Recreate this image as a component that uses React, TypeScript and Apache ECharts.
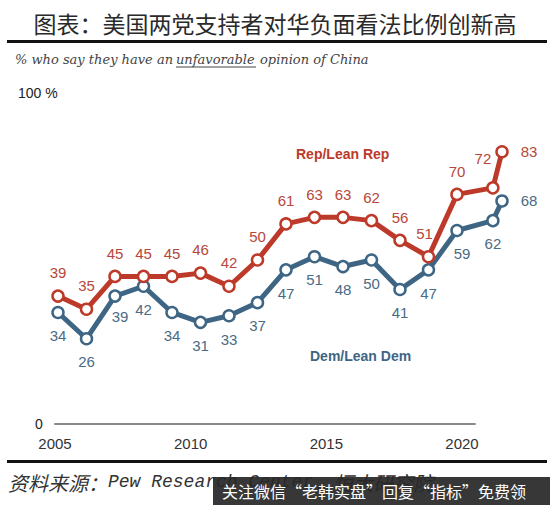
import React, { useEffect, useRef } from "react";
import * as echarts from "echarts";

// survey times (2020 has two waves)
const surveyTimes = [2005, 2006, 2007, 2008, 2009, 2010, 2011, 2012, 2013, 2014, 2015, 2016, 2017, 2018, 2019, 2020.26, 2020.58];
const repValues = [39, 35, 45, 45, 45, 46, 42, 50, 61, 63, 63, 62, 56, 51, 70, 72, 83];
const demValues = [34, 26, 39, 42, 34, 31, 33, 37, 47, 51, 48, 50, 41, 47, 59, 62, 68];
const xTickLabels = [2005, 2010, 2015, 2020];
const yTickLabels = [0, 100];

const RED = "#bd3a2a";
const RED_TXT = "#b7473a";
const BLUE = "#3e6684";
const BLUE_TXT = "#4a6b84";

const repLabelCfg: Record<number, any> = {
  13: { position: "top", offset: [-4, 0] },
  15: { position: "top", offset: [-10, -6] },
  16: { position: "right", distance: 12 },
};
const demLabelCfg: Record<number, any> = {
  2: { position: "bottom", offset: [5, -3] },
  14: { position: "bottom", offset: [5, 0] },
  16: { position: "right", distance: 12 },
};

export default function App() {
  const ref = useRef<HTMLDivElement>(null);
  useEffect(() => {
    const chart = echarts.init(ref.current!, null, { renderer: "svg" });
    const mk = (vals: number[], cfg: Record<number, any>, txt: string) =>
      vals.map((v, i) => ({
        value: [surveyTimes[i], v],
        label: cfg[i] ? { ...cfg[i], color: txt } : undefined,
      }));
    const labelFont = { fontFamily: "Liberation Sans", fontSize: 15 };
    const option: any = {
      animation: false,
      backgroundColor: "#fff",
      grid: [
        { left: 58, right: 48, top: 96, bottom: 81 },
        { left: 55, right: 75, top: 96, bottom: 81 },
      ],
      xAxis: [
        {
          type: "value", gridIndex: 0, min: 2005, max: 2020.58,
          axisLine: { show: false }, axisTick: { show: false },
          axisLabel: { show: false }, splitLine: { show: false },
        },
        {
          type: "value", gridIndex: 1, min: 2005, max: 2020.48, interval: 5,
          axisLine: { show: true, onZero: false, lineStyle: { color: "#8a8a8a", width: 2 } },
          axisTick: { show: false }, splitLine: { show: false },
          axisLabel: {
            show: true, margin: 12, color: "#333", fontSize: 15, fontFamily: "Liberation Sans",
            showMaxLabel: false,
            formatter: (v: number) => (xTickLabels.includes(v) ? String(v) : ""),
          },
        },
      ],
      yAxis: [
        {
          type: "value", gridIndex: 0, min: 0, max: 100, interval: 100,
          axisLine: { show: false }, axisTick: { show: false }, splitLine: { show: false },
          axisLabel: {
            show: true, align: "left", margin: 40,
            formatter: (v: number) => (yTickLabels.includes(v) ? (v === 100 ? "{a|100 %}" : "{b|" + v + "}") : ""),
            rich: {
              a: { fontSize: 14, color: "#222", fontFamily: "Liberation Sans", padding: [-6, 0, 0, 0] },
              b: { fontSize: 14, color: "#222", fontFamily: "Liberation Sans", padding: [0, 0, 0, 17] },
            },
          },
        },
        {
          type: "value", gridIndex: 1, min: 0, max: 100,
          axisLine: { show: false }, axisTick: { show: false }, axisLabel: { show: false }, splitLine: { show: false },
        },
      ],
      series: [
        {
          type: "line", name: "Dem/Lean Dem", xAxisIndex: 0, yAxisIndex: 0, clip: false,
          data: mk(demValues, demLabelCfg, BLUE_TXT),
          lineStyle: { color: BLUE, width: 5 },
          symbol: "circle", symbolSize: 11,
          itemStyle: { color: "#fff", borderColor: BLUE, borderWidth: 2.5 },
          label: { show: true, position: "bottom", distance: 9, color: BLUE_TXT, ...labelFont,
            formatter: (p: any) => String(p.value[1]) },
          z: 3,
        },
        {
          type: "line", name: "Rep/Lean Rep", xAxisIndex: 0, yAxisIndex: 0, clip: false,
          data: mk(repValues, repLabelCfg, RED_TXT),
          lineStyle: { color: RED, width: 5 },
          symbol: "circle", symbolSize: 11,
          itemStyle: { color: "#fff", borderColor: RED, borderWidth: 2.5 },
          label: { show: true, position: "top", distance: 9, color: RED_TXT, ...labelFont,
            formatter: (p: any) => String(p.value[1]) },
          z: 4,
        },
      ],
      graphic: [
        { type: "text", left: "center", top: 11, style: { text: "图表：美国两党支持者对华负面看法比例创新高", fontSize: 23, fontFamily: "Noto Sans CJK SC", fill: "#2a2a2a" } },
        { type: "rect", shape: { x: 7, y: 40, width: 540, height: 3 }, style: { fill: "#111" } },
        { type: "text", x: 15, y: 53, style: { text: "% who say they have an", fontSize: 13, fontStyle: "italic", fontFamily: "DejaVu Serif", fill: "#444" } },
        { type: "text", x: 176, y: 53, style: { text: "unfavorable", fontSize: 13, fontStyle: "italic", fontFamily: "DejaVu Serif", fill: "#444" } },
        { type: "line", shape: { x1: 176, y1: 67, x2: 256, y2: 67 }, style: { stroke: "#444", lineWidth: 1 } },
        { type: "text", x: 260, y: 53, style: { text: "opinion of China", fontSize: 13, fontStyle: "italic", fontFamily: "DejaVu Serif", fill: "#444" } },
        { type: "rect", z: 100, shape: { x: 55, y: 423, width: 420, height: 2 }, style: { fill: "#8a8a8a" } },
        { type: "text", x: 296, y: 147, style: { text: "Rep/Lean Rep", fontSize: 14, fontWeight: "bold", fontFamily: "Liberation Sans", fill: RED } },
        { type: "text", x: 310, y: 349, style: { text: "Dem/Lean Dem", fontSize: 14, fontWeight: "bold", fontFamily: "Liberation Sans", fill: BLUE } },
        { type: "rect", shape: { x: 7, y: 460, width: 540, height: 3 }, style: { fill: "#111" } },
        { type: "text", x: 8, y: 472, style: {
          text: "{a|资料来源：}{b|Pew Research Center}{a|，恒大研究院}",
          rich: {
            a: { fontSize: 20, fontStyle: "italic", fontFamily: "Noto Sans CJK SC", fill: "#333" },
            b: { fontSize: 18, fontStyle: "italic", fontFamily: "Liberation Mono", fill: "#333" },
          } } },
        { type: "rect", shape: { x: 213, y: 477, width: 337, height: 28 }, style: { fill: "rgba(40,40,40,0.93)" } },
        { type: "text", x: 222, y: 483, style: { text: "关注微信“老韩实盘”回复“指标”免费领", fontSize: 16, fontFamily: "Noto Sans CJK SC", fill: "#fff" } },
      ],
    };
    chart.setOption(option);
    return () => chart.dispose();
  }, []);
  return <div ref={ref} style={{ width: 550, height: 505, position: "absolute", left: 0, top: 0 }} />;
}
